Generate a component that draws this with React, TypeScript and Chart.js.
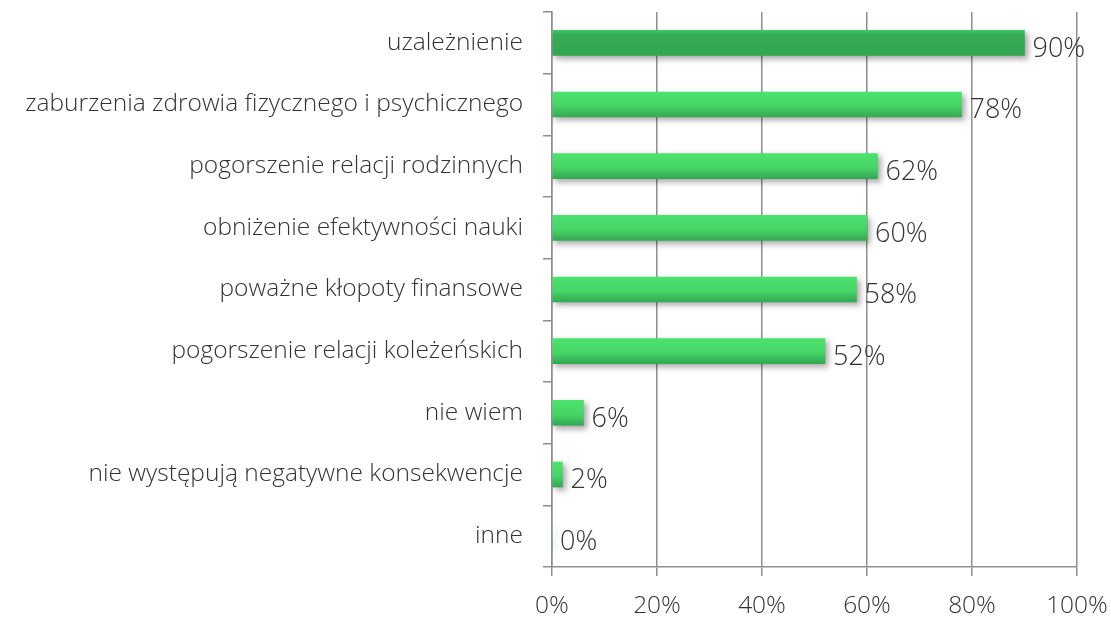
import React, { useEffect, useRef } from "react";
import { Chart, registerables } from "chart.js";

Chart.register(...registerables);

const categories = [
  "uzależnienie",
  "zaburzenia zdrowia fizycznego i psychicznego",
  "pogorszenie relacji rodzinnych",
  "obniżenie efektywności nauki",
  "poważne kłopoty finansowe",
  "pogorszenie relacji koleżeńskich",
  "nie wiem",
  "nie występują negatywne konsekwencje",
  "inne",
];
const values = [90, 78, 62, 60, 58, 52, 6, 2, 0];
const xTickValues = [0, 20, 40, 60, 80, 100];

const FONT = "'Open Sans', 'Noto Sans', sans-serif";
const TEXT = "#333333";
const GRID = "#8e8e8e";

const shadowPlugin = {
  id: "barShadow",
  beforeDatasetsDraw(chart: any) {
    const ctx = chart.ctx;
    ctx.save();
    ctx.shadowColor = "rgba(0,0,0,0.35)";
    ctx.shadowBlur = 6;
    ctx.shadowOffsetX = 3;
    ctx.shadowOffsetY = 3;
  },
  afterDatasetsDraw(chart: any) {
    chart.ctx.restore();
  },
};

const labelPlugin = {
  id: "valueLabels",
  afterDatasetsDraw(chart: any) {
    const ctx = chart.ctx;
    const meta = chart.getDatasetMeta(0);
    ctx.save();
    ctx.shadowColor = "transparent";
    ctx.font = `300 27px ${FONT}`;
    ctx.fillStyle = TEXT;
    ctx.textAlign = "left";
    ctx.textBaseline = "middle";
    meta.data.forEach((bar: any, i: number) => {
      ctx.fillText(`${values[i]}%`, bar.x + 8, bar.y + 6);
    });
    ctx.restore();
  },
};

export default function App() {
  const ref = useRef<HTMLCanvasElement | null>(null);
  useEffect(() => {
    if (!ref.current) return;
    const chart = new Chart(ref.current, {
      type: "bar",
      data: {
        labels: categories,
        datasets: [
          {
            data: values,
            barThickness: 25,
            backgroundColor: (c: any) => {
              const chartObj = c.chart;
              const y = chartObj.scales?.y;
              if (!y || c.dataIndex === undefined) return "#45d366";
              const cy = y.getPixelForValue(c.dataIndex);
              if (!isFinite(cy)) return "#45d366";
              const g = chartObj.ctx.createLinearGradient(0, cy - 12.5, 0, cy + 12.5);
              if (c.dataIndex === 0) {
                g.addColorStop(0, "#42c862");
                g.addColorStop(0.15, "#36ab55");
                g.addColorStop(1, "#33a652");
              } else {
                g.addColorStop(0, "#4be36e");
                g.addColorStop(0.55, "#46d567");
                g.addColorStop(1, "#33a852");
              }
              return g;
            },
            borderWidth: 0,
          },
        ],
      },
      options: {
        indexAxis: "y",
        animation: false,
        responsive: true,
        maintainAspectRatio: false,
        layout: { padding: { top: 12, right: 34, left: 0, bottom: 0 } },
        plugins: {
          legend: { display: false },
          tooltip: { enabled: false },
        },
        scales: {
          x: {
            min: 0,
            max: 100,
            afterBuildTicks: (scale: any) => {
              scale.ticks = xTickValues.map((v) => ({ value: v }));
            },
            afterFit: (scale: any) => {
              scale.height = 50;
              scale.paddingLeft = 0;
              scale.paddingRight = 0;
            },
            grid: {
              color: GRID,
              lineWidth: 1.5,
              tickLength: 9,
              drawTicks: true,
            },
            border: { color: GRID, width: 1.5 },
            ticks: {
              padding: 15,
              color: TEXT,
              font: { family: FONT, size: 24.5, weight: "300" as any },
              callback: (v: any) => `${v}%`,
            },
          },
          y: {
            afterFit: (scale: any) => {
              scale.width = 552;
              scale.paddingTop = 0;
              scale.paddingBottom = 0;
            },
            grid: {
              offset: true,
              drawOnChartArea: false,
              drawTicks: true,
              tickLength: 9,
              color: GRID,
              lineWidth: 1.5,
            },
            border: { color: GRID, width: 1.5 },
            ticks: {
              padding: 20,
              color: TEXT,
              font: { family: FONT, size: 24.5, weight: "300" as any },
            },
          },
        },
      },
      plugins: [shadowPlugin, labelPlugin],
    });
    return () => chart.destroy();
  }, []);
  return (
    <div style={{ position: "absolute", left: 0, top: 0, width: 1111, height: 617, background: "#fff" }}>
      <canvas ref={ref} />
    </div>
  );
}
